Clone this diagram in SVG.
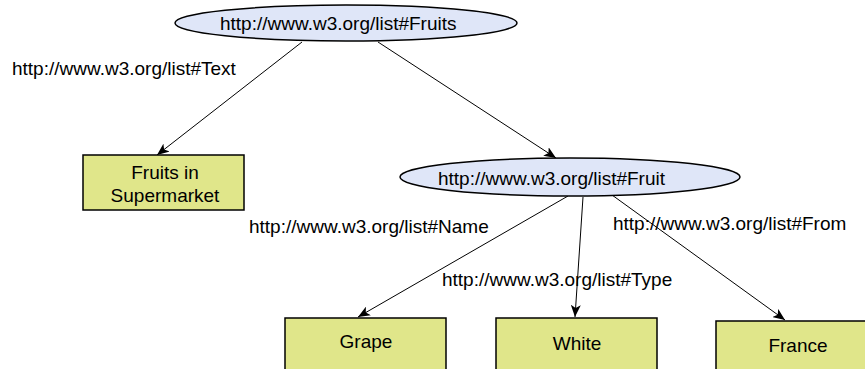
<svg xmlns="http://www.w3.org/2000/svg" width="865" height="369" viewBox="0 0 865 369">
<style>
.ell{fill:#dfe6f8;stroke:#000;stroke-width:1.5}
.box{fill:#e0e68a;stroke:#000;stroke-width:1.5}
.t{font-family:"Liberation Sans",Arial,sans-serif;font-size:19px;fill:#000}
.c{text-anchor:middle}
.e{stroke:#000;stroke-width:1;fill:none;marker-end:url(#ah)}
</style>
<defs>
<marker id="ah" viewBox="0 0 12 10" refX="12" refY="5" markerWidth="12" markerHeight="10" markerUnits="userSpaceOnUse" orient="auto">
<path d="M0,0 L12,5 L0,10 L3,5 Z" fill="#000"/>
</marker>
</defs>
<rect width="865" height="369" fill="#fff"/>
<g id="connectors">
<line class="e" x1="302" y1="42" x2="157" y2="155"/>
<line class="e" x1="378" y1="42" x2="556" y2="158"/>
<line class="e" x1="568" y1="196" x2="358" y2="317"/>
<line class="e" x1="583" y1="197" x2="575" y2="317"/>
<line class="e" x1="612" y1="195" x2="785" y2="320"/>
<text class="t" x="12" y="75">http://www.w3.org/list#Text</text>
<text class="t" x="249" y="233">http://www.w3.org/list#Name</text>
<text class="t" x="442" y="286">http://www.w3.org/list#Type</text>
<text class="t" x="613" y="230">http://www.w3.org/list#From</text>
</g>
<g id="fruits">
<ellipse class="ell" cx="346" cy="23" rx="171" ry="18"/>
<text class="t" x="220" y="30">http://www.w3.org/list#Fruits</text>
</g>
<g id="fruit">
<ellipse class="ell" cx="570" cy="177" rx="170" ry="19"/>
<text class="t" x="438" y="185">http://www.w3.org/list#Fruit</text>
</g>
<g id="supermarket">
<rect class="box" x="83" y="155" width="161" height="55"/>
<text class="t c" x="165" y="179">Fruits in</text>
<text class="t c" x="165" y="202">Supermarket</text>
</g>
<g id="grape">
<rect class="box" x="285" y="318" width="161" height="60"/>
<text class="t c" x="366" y="348">Grape</text>
</g>
<g id="white">
<rect class="box" x="496" y="318" width="161" height="60"/>
<text class="t c" x="577" y="350">White</text>
</g>
<g id="france">
<rect class="box" x="716" y="321" width="161" height="60"/>
<text class="t c" x="798" y="352">France</text>
</g>
</svg>
